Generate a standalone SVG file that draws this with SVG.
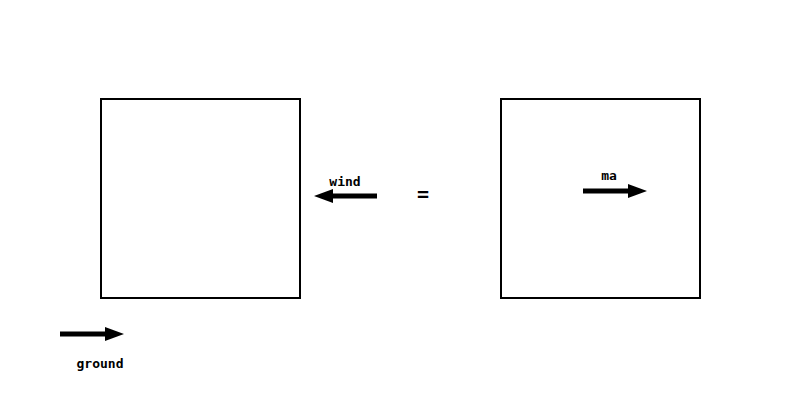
<svg xmlns="http://www.w3.org/2000/svg" width="800" height="400" viewBox="0 0 800 400">
<style>
.box{fill:none;stroke:#000;stroke-width:2}
.arr{stroke:#000;stroke-width:5;fill:none}
.head{fill:#000}
text{font-family:"DejaVu Sans Mono","Liberation Mono",monospace;font-weight:bold;font-size:13px;fill:#000;text-anchor:middle}
</style>
<rect width="800" height="400" fill="#fff"/>
<g id="box-left"><rect class="box" x="101" y="99" width="199" height="199"/></g>
<g id="box-right"><rect class="box" x="501" y="99" width="199" height="199"/></g>
<g id="connectors">
<g id="wind-arrow"><line class="arr" x1="377" y1="196" x2="330" y2="196"/><polygon class="head" points="314,196 333,189 333,203"/></g>
<g id="ma-arrow"><line class="arr" x1="583" y1="191" x2="630" y2="191"/><polygon class="head" points="647,191 628,184 628,198"/></g>
<g id="ground-arrow"><line class="arr" x1="60" y1="334" x2="107" y2="334"/><polygon class="head" points="124,334 105,327 105,341"/></g>
</g>
<text x="345" y="186">wind</text>
<text x="423" y="201" style="font-size:20px">=</text>
<text x="609" y="180">ma</text>
<text x="100" y="368">ground</text>
</svg>
